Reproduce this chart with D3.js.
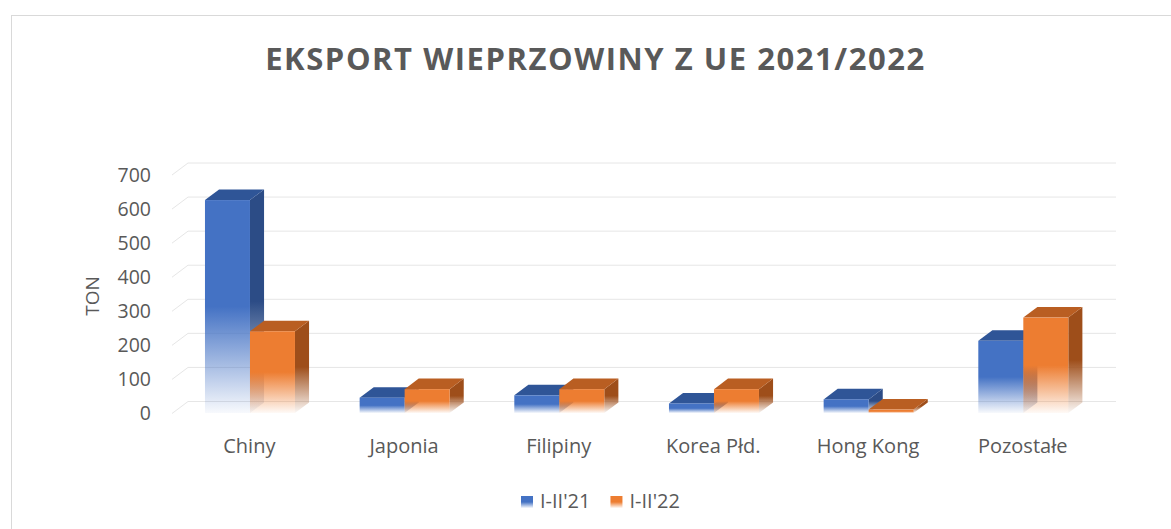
<!DOCTYPE html>
<html>
<head>
<meta charset="utf-8">
<script src="https://cdn.jsdelivr.net/npm/d3@7"></script>
<style>
  html, body { margin: 0; padding: 0; background: #fff; }
  svg { display: block; font-family: "Open Sans", sans-serif; }
</style>
</head>
<body>
<div id="chart"></div>
<script>
// chart data
const categories = ["Chiny", "Japonia", "Filipiny", "Korea Płd.", "Hong Kong", "Pozostałe"];
const seriesNames = ["I-II'21", "I-II'22"];
const values21 = [625, 45, 52, 28, 40, 212];
const values22 = [240, 70, 70, 70, 10, 280];
const yTicks = [0, 100, 200, 300, 400, 500, 600, 700];

const width = 1171, height = 529;
const textColor = "#595959";

// front plane of the 3D box + depth offset
const floor = { left: 172, right: 1100, bottom: 413.5, top: 175 };
const depth = { dx: 16, dy: -12 };

const palette = [
  { front: "#4472C4", top: "#2F5597", side: "#2C4C86" },
  { front: "#ED7D31", top: "#B95E22", side: "#9E4E1A" }
];

const svg = d3.select("#chart").append("svg")
  .attr("width", width)
  .attr("height", height);

const defs = svg.append("defs");

// fade to white on the lower half of each bar
function fade(id, color) {
  const g = defs.append("linearGradient")
    .attr("id", id)
    .attr("x1", 0).attr("y1", 0).attr("x2", 0).attr("y2", 1);
  g.append("stop").attr("offset", 0).attr("stop-color", color);
  g.append("stop").attr("offset", 0.5).attr("stop-color", color);
  g.append("stop").attr("offset", 1).attr("stop-color", color).attr("stop-opacity", 0.04);
}
palette.forEach((p, i) => {
  fade(`front${i}`, p.front);
  fade(`side${i}`, p.side);
});

// chart frame
svg.append("rect")
  .attr("x", 11.5).attr("y", 15.5)
  .attr("width", width + 20).attr("height", height + 20)
  .attr("fill", "#fff")
  .attr("stroke", "#d9d9d9");

// title
const title = svg.append("text")
  .attr("x", 595.5).attr("y", 70)
  .attr("text-anchor", "middle")
  .attr("fill", textColor)
  .attr("font-size", 31)
  .attr("font-weight", 700)
  .text("EKSPORT WIEPRZOWINY Z UE 2021/2022");
const tw = title.node().getComputedTextLength();
const chars = title.text().length;
title.attr("letter-spacing", (659 - tw) / (chars - 1));

const x = d3.scaleBand()
  .domain(categories)
  .range([floor.left, floor.right]);

const y = d3.scaleLinear()
  .domain([0, 700])
  .range([floor.bottom, floor.top]);

// gridlines on side wall and back wall
svg.append("g")
  .selectAll("path")
  .data(yTicks)
  .join("path")
  .attr("fill", "none")
  .attr("stroke", "#e6e6e6")
  .attr("stroke-width", 1)
  .attr("d", d => {
    const yy = y(d);
    return `M${floor.left},${yy}L${floor.left + depth.dx},${yy + depth.dy}L${floor.right + depth.dx},${yy + depth.dy}`;
  });

// y axis
const yAxis = svg.append("g")
  .attr("transform", `translate(${floor.left},0)`)
  .call(d3.axisLeft(y).tickValues(yTicks).tickSize(0).tickPadding(21));
yAxis.select(".domain").remove();
yAxis.selectAll("text")
  .attr("fill", textColor)
  .attr("font-size", 19.5)
  .attr("font-family", "Open Sans");

svg.append("text")
  .attr("transform", "translate(99,296) rotate(-90)")
  .attr("text-anchor", "middle")
  .attr("fill", textColor)
  .attr("font-size", 19)
  .text("TON");

// x axis labels
const xAxis = svg.append("g")
  .attr("transform", `translate(0,${floor.bottom + 17})`)
  .call(d3.axisBottom(x).tickSize(0).tickPadding(8));
xAxis.select(".domain").remove();
xAxis.selectAll("text")
  .attr("fill", textColor)
  .attr("font-size", 20)
  .attr("font-family", "Open Sans");

// 3D bars
const barW = 45;
const groupPad = (x.bandwidth() - barW * 2) / 2;
const d0 = 0.04, d1 = 0.92;
const series = [values21, values22];

const bars = svg.append("g");
categories.forEach((cat, i) => {
  series.forEach((vals, s) => {
    const v = vals[i];
    const xl = x(cat) + groupPad + s * barW + depth.dx * d0;
    const xr = xl + barW;
    const yt = y(v) + depth.dy * d0;
    const yb = y(0) + depth.dy * d0;
    const ox = depth.dx * (d1 - d0), oy = depth.dy * (d1 - d0);
    const g = bars.append("g");
    // side
    g.append("path")
      .attr("d", `M${xr},${yt}L${xr + ox},${yt + oy}L${xr + ox},${yb + oy}L${xr},${yb}Z`)
      .attr("fill", `url(#side${s})`);
    // top
    g.append("path")
      .attr("d", `M${xl},${yt}L${xl + ox},${yt + oy}L${xr + ox},${yt + oy}L${xr},${yt}Z`)
      .attr("fill", palette[s].top);
    // front
    g.append("rect")
      .attr("x", xl).attr("y", yt)
      .attr("width", barW).attr("height", yb - yt)
      .attr("fill", `url(#front${s})`);
  });
});

// legend
const legend = svg.append("g");
let lx = 521;
seriesNames.forEach((name, s) => {
  legend.append("rect")
    .attr("x", lx).attr("y", 496)
    .attr("width", 12).attr("height", 12)
    .attr("fill", `url(#front${s})`);
  const t = legend.append("text")
    .attr("x", lx + 19).attr("y", 508)
    .attr("fill", textColor)
    .attr("font-size", 20)
    .text(name);
  lx += 19 + t.node().getComputedTextLength() + 20;
});
</script>
</body>
</html>
